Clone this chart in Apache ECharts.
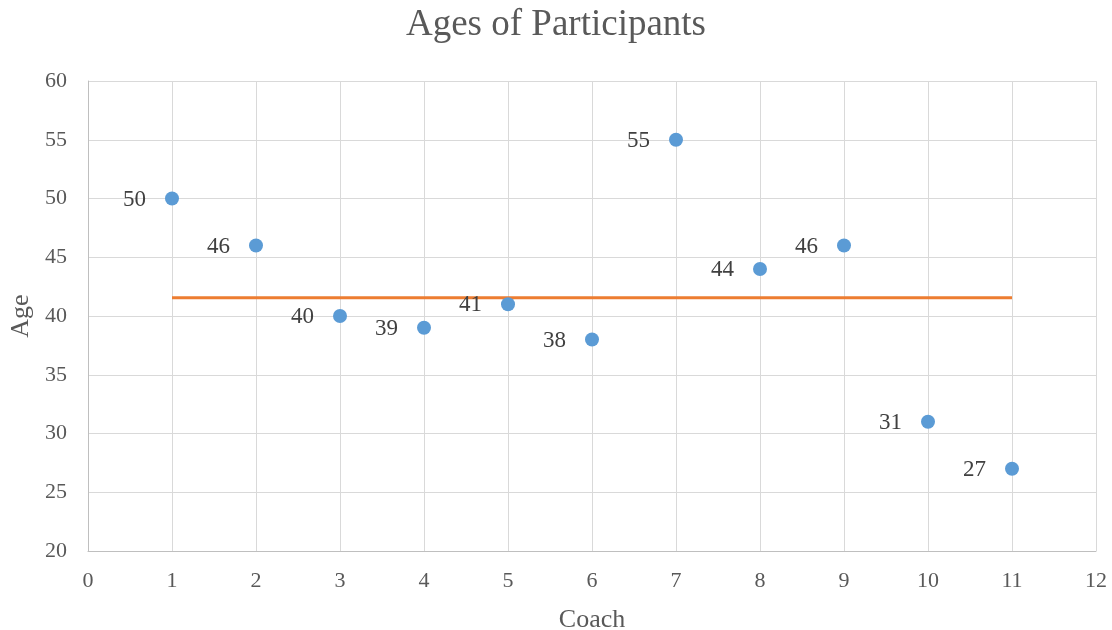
<!DOCTYPE html>
<html><head><meta charset="utf-8">
<script src="https://cdn.jsdelivr.net/npm/echarts@6/dist/echarts.min.js"></script>
<style>html,body{margin:0;padding:0;background:#fff}#c{width:1112px;height:630px}</style>
</head><body><div id="c"></div>
<script>
const coaches = [1,2,3,4,5,6,7,8,9,10,11];
const ages = [50,46,40,39,41,38,55,44,46,31,27];
const avgX = [1, 11];
const avgY = [41.55, 41.55];
const xTicks = [0,1,2,3,4,5,6,7,8,9,10,11,12];
const yTicks = [20,25,30,35,40,45,50,55,60];

const font = 'Liberation Serif, Times New Roman, serif';
const chart = echarts.init(document.getElementById('c'));
chart.setOption({
  animation:false,
  backgroundColor:'#fff',
  title:{text:'Ages of Participants', left:'center', top:2,
    textStyle:{fontFamily:font, fontSize:37, fontWeight:'normal', color:'#595959'}},
  grid:{left:88, right:16, top:81, bottom:79, containLabel:false, outerBoundsMode:'none'},
  xAxis:{type:'value', min:xTicks[0], max:xTicks[xTicks.length-1], interval:1,
    name:'Coach', nameLocation:'middle', nameGap:56,
    nameTextStyle:{fontFamily:font, fontSize:26, color:'#595959'},
    axisLine:{show:true, lineStyle:{color:'#bfbfbf', width:1}},
    axisTick:{show:false},
    axisLabel:{fontFamily:font, fontSize:22, color:'#595959', margin:19},
    splitLine:{show:true, lineStyle:{color:'#d9d9d9', width:1}}},
  yAxis:{type:'value', min:yTicks[0], max:yTicks[yTicks.length-1], interval:5,
    name:'Age', nameLocation:'middle', nameGap:54,
    nameTextStyle:{fontFamily:font, fontSize:26, color:'#595959'},
    axisLine:{show:true, lineStyle:{color:'#bfbfbf', width:1}}, axisTick:{show:false},
    axisLabel:{fontFamily:font, fontSize:22, color:'#595959', margin:21},
    splitLine:{show:true, lineStyle:{color:'#d9d9d9', width:1}}},
  series:[
    {type:'line', data:avgX.map((x,i)=>[x,avgY[i]]), symbol:'none',
      lineStyle:{color:'#ED7D31', width:3}, z:2, silent:true},
    {type:'scatter', data:coaches.map((c,i)=>[c,ages[i]]),
      symbolSize:14, itemStyle:{color:'#5B9BD5', opacity:1}, z:3,
      label:{show:true, position:'left', distance:19, offset:[0,1], fontFamily:font, fontSize:23, color:'#404040',
        formatter:p=>p.value[1]}}
  ]
});
</script></body></html>
